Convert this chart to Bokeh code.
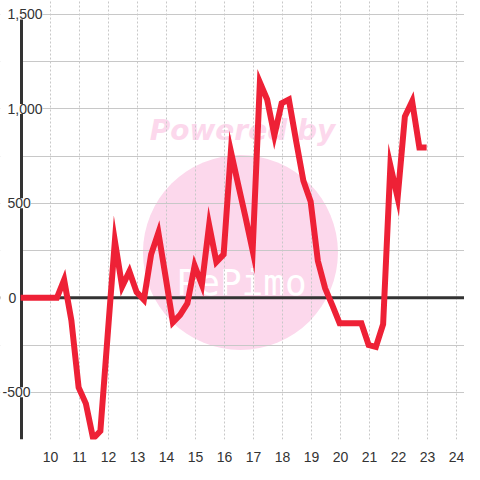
from bokeh.plotting import figure
from bokeh.models import ColumnDataSource, FixedTicker, Grid, Span, LabelSet, BoxAnnotation
from bokeh.core.properties import value
from bokeh.embed import file_html
from bokeh.resources import INLINE

# ---- data ----
hours = [8.97, 9.22, 9.47, 9.72, 9.97, 10.22, 10.47, 10.72, 10.97, 11.22,
         11.47, 11.72, 11.97, 12.22, 12.47, 12.72, 12.97, 13.22, 13.47, 13.72,
         13.97, 14.22, 14.47, 14.72, 14.97, 15.22, 15.47, 15.72, 15.97, 16.22,
         16.47, 16.72, 16.97, 17.22, 17.47, 17.72, 17.97, 18.22, 18.47, 18.72,
         18.97, 19.22, 19.47, 19.72, 19.97, 20.22, 20.47, 20.72, 20.97, 21.22,
         21.47, 21.72, 21.97, 22.22, 22.47, 22.72, 22.97]
net = [0, 0, 0, 0, 0, 0, 95, -120, -475, -560,
       -745, -705, -200, 300, 60, 140, 30, -10, 230, 345,
       110, -130, -90, -30, 170, 70, 385, 190, 230, 775,
       600, 430, 250, 1140, 1050, 860, 1030, 1050, 830, 620,
       510, 195, 50, -40, -135, -135, -135, -135, -250, -260,
       -140, 700, 530, 960, 1040, 795, 795]

x_ticks = list(range(10, 25))
y_ticks = [-500, 0, 500, 1000, 1500]
y_tick_labels = ["-500", "0", "500", "1,000", "1,500"]
y_grid_ticks = [-750, -500, -250, 0, 250, 500, 750, 1000, 1250, 1500]

# ---- layout / styles ----
W, H = 464, 464
AXIS_X = 9
AXIS_PX = 21
PPU_X = 29.0
X_START = AXIS_X - AXIS_PX / PPU_X
X_END = X_START + W / PPU_X

Y_MIN, Y_MAX = -750, 1500
TOP_PX = 14
BOTTOM_BORDER = 23
FRAME_H = H - BOTTOM_BORDER
PPU_Y = (FRAME_H - TOP_PX) / (Y_MAX - Y_MIN)
Y_TOP = Y_MAX + TOP_PX / PPU_Y

label_offsets = [-19, -13, -14, -14, -14]

# watermark
WM_X, WM_Y = 16.55, 240
WM_TEXT1_X, WM_TEXT1_Y = 16.62, 885
WM_TEXT2_X, WM_TEXT2_Y = 16.59, 83
PINK = "#FCD8EC"

p = figure(width=W, height=H,
           x_range=(X_START, X_END), y_range=(Y_MIN, Y_TOP),
           output_backend="svg", toolbar_location=None,
           y_axis_location=None,
           min_border_left=0, min_border_right=0,
           min_border_top=0, min_border_bottom=BOTTOM_BORDER)
p.outline_line_color = None
p.background_fill_color = "white"
p.border_fill_color = "white"

# watermark (beneath grid)
p.scatter(x=[WM_X], y=[WM_Y], size=195, fill_color=PINK, line_color=None,
          level="image")
p.text(x=[WM_TEXT1_X], y=[WM_TEXT1_Y], text=["Powered by"], text_align="center",
       text_baseline="middle", text_font=value("DejaVu Sans"),
       text_font_style="bold italic", text_font_size="28px",
       text_color=PINK, level="image")
p.text(x=[WM_TEXT2_X], y=[WM_TEXT2_Y], text=["PePimo"], text_align="center",
       text_baseline="middle", text_font=value("DejaVu Sans Mono"),
       text_font_size="36px", text_color="white", level="image")

# x axis
xa = p.xaxis[0]
xa.ticker = FixedTicker(ticks=x_ticks)
xa.axis_line_color = None
xa.major_tick_line_color = None
xa.minor_tick_line_color = None
xa.major_label_text_font = "Liberation Sans"
xa.major_label_text_font_size = "14px"
xa.major_label_text_color = "#333333"
xa.major_label_standoff = 6

p.xgrid.ticker = FixedTicker(ticks=x_ticks)
p.xgrid.grid_line_color = "#c8c8c8"
p.xgrid.grid_line_dash = "2 2"

ygrid = Grid(dimension=1, ticker=FixedTicker(ticks=y_grid_ticks),
             grid_line_color="#c8c8c8", grid_line_width=1)
p.add_layout(ygrid)

# zero line
p.add_layout(Span(location=0, dimension="width", line_color="#333333",
                  line_width=3, level="underlay"))

# blank area left of the y axis
p.add_layout(BoxAnnotation(right=AXIS_X, fill_color="white", fill_alpha=1.0,
                           line_color=None, level="underlay"))

# y axis line
p.line(x=[AXIS_X, AXIS_X], y=[Y_MIN, Y_MAX], line_color="#333333",
       line_width=3)

# series
p.line(hours, net, line_color="#EE2136", line_width=6, line_join="miter")

# y tick labels
lab_src = ColumnDataSource(dict(x=[AXIS_X] * len(y_ticks), y=y_ticks,
                                text=y_tick_labels, dx=label_offsets))
p.add_layout(LabelSet(x="x", y="y", text="text", source=lab_src,
                      x_offset="dx", text_align="left", text_baseline="middle",
                      text_font=value("Liberation Sans"),
                      text_font_size="14px", text_color="#333333",
                      background_fill_color="white"))

open("out.html", "w").write(file_html(p, INLINE))
